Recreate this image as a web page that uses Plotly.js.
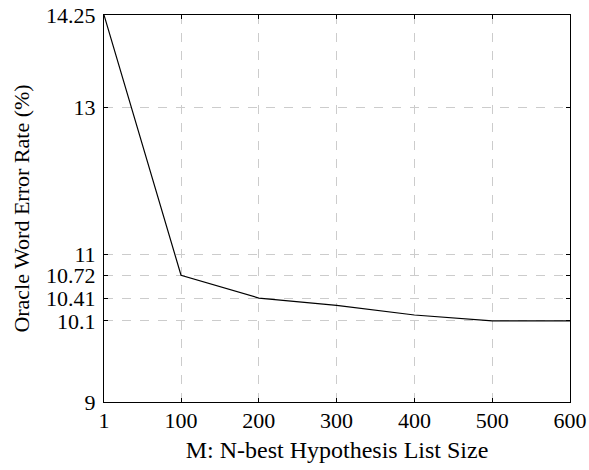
<!DOCTYPE html>
<html>
<head>
<meta charset="utf-8">
<script src="https://cdn.plot.ly/plotly-3.0.1.min.js"></script>
<style>html,body{margin:0;padding:0;background:#fff;}#chart{width:589px;height:470px;}</style>
</head>
<body>
<div id="chart"></div>
<script>
const listSizes = [1, 100, 200, 300, 400, 500, 600];
const oracleWER = [14.25, 10.72, 10.41, 10.31, 10.18, 10.1, 10.1];
const xTicks = [1, 100, 200, 300, 400, 500, 600];
const yTicks = [9, 10.1, 10.41, 10.72, 11, 13, 14.25];
const yTickLabels = ["9", "10.1", "10.41", "10.72", "11", "13", "14.25"];

const family = '"Liberation Serif", "DejaVu Serif", serif';
const tickFont = {family: family, size: 22, color: '#000'};
const xTitleFont = {family: family, size: 24, color: '#000'};
const yTitleFont = {family: family, size: 22, color: '#000'};

Plotly.newPlot('chart', [{
  x: listSizes,
  y: oracleWER,
  type: 'scatter',
  mode: 'lines',
  line: {color: '#000', width: 1.2},
  hoverinfo: 'none'
}], {
  width: 589, height: 470,
  margin: {l: 104, r: 19, t: 15, b: 68},
  paper_bgcolor: '#fff', plot_bgcolor: '#fff',
  font: tickFont,
  showlegend: false,
  xaxis: {
    range: [1, 600],
    tickmode: 'array', tickvals: xTicks, ticktext: xTicks.map(String),
    showgrid: true, gridcolor: '#cccccc', griddash: 'dash', gridwidth: 1,
    showline: true, mirror: 'ticks', linecolor: '#000', linewidth: 1,
    ticks: 'inside', ticklen: 4, tickcolor: '#000',
    ticklabelstandoff: -1,
    zeroline: false,
    tickfont: tickFont,
    title: {text: 'M: N-best Hypothesis List Size', font: xTitleFont, standoff: 8}
  },
  yaxis: {
    range: [9, 14.25],
    tickmode: 'array', tickvals: yTicks, ticktext: yTickLabels,
    showgrid: true, gridcolor: '#cccccc', griddash: 'dash', gridwidth: 1,
    showline: true, mirror: 'ticks', linecolor: '#000', linewidth: 1,
    ticks: 'inside', ticklen: 4, tickcolor: '#000',
    ticklabelstandoff: 3,
    zeroline: false,
    tickfont: tickFont,
    title: {text: 'Oracle Word Error Rate (%)', font: yTitleFont, standoff: 10}
  }
}, {displayModeBar: false, staticPlot: true});
</script>
</body>
</html>
